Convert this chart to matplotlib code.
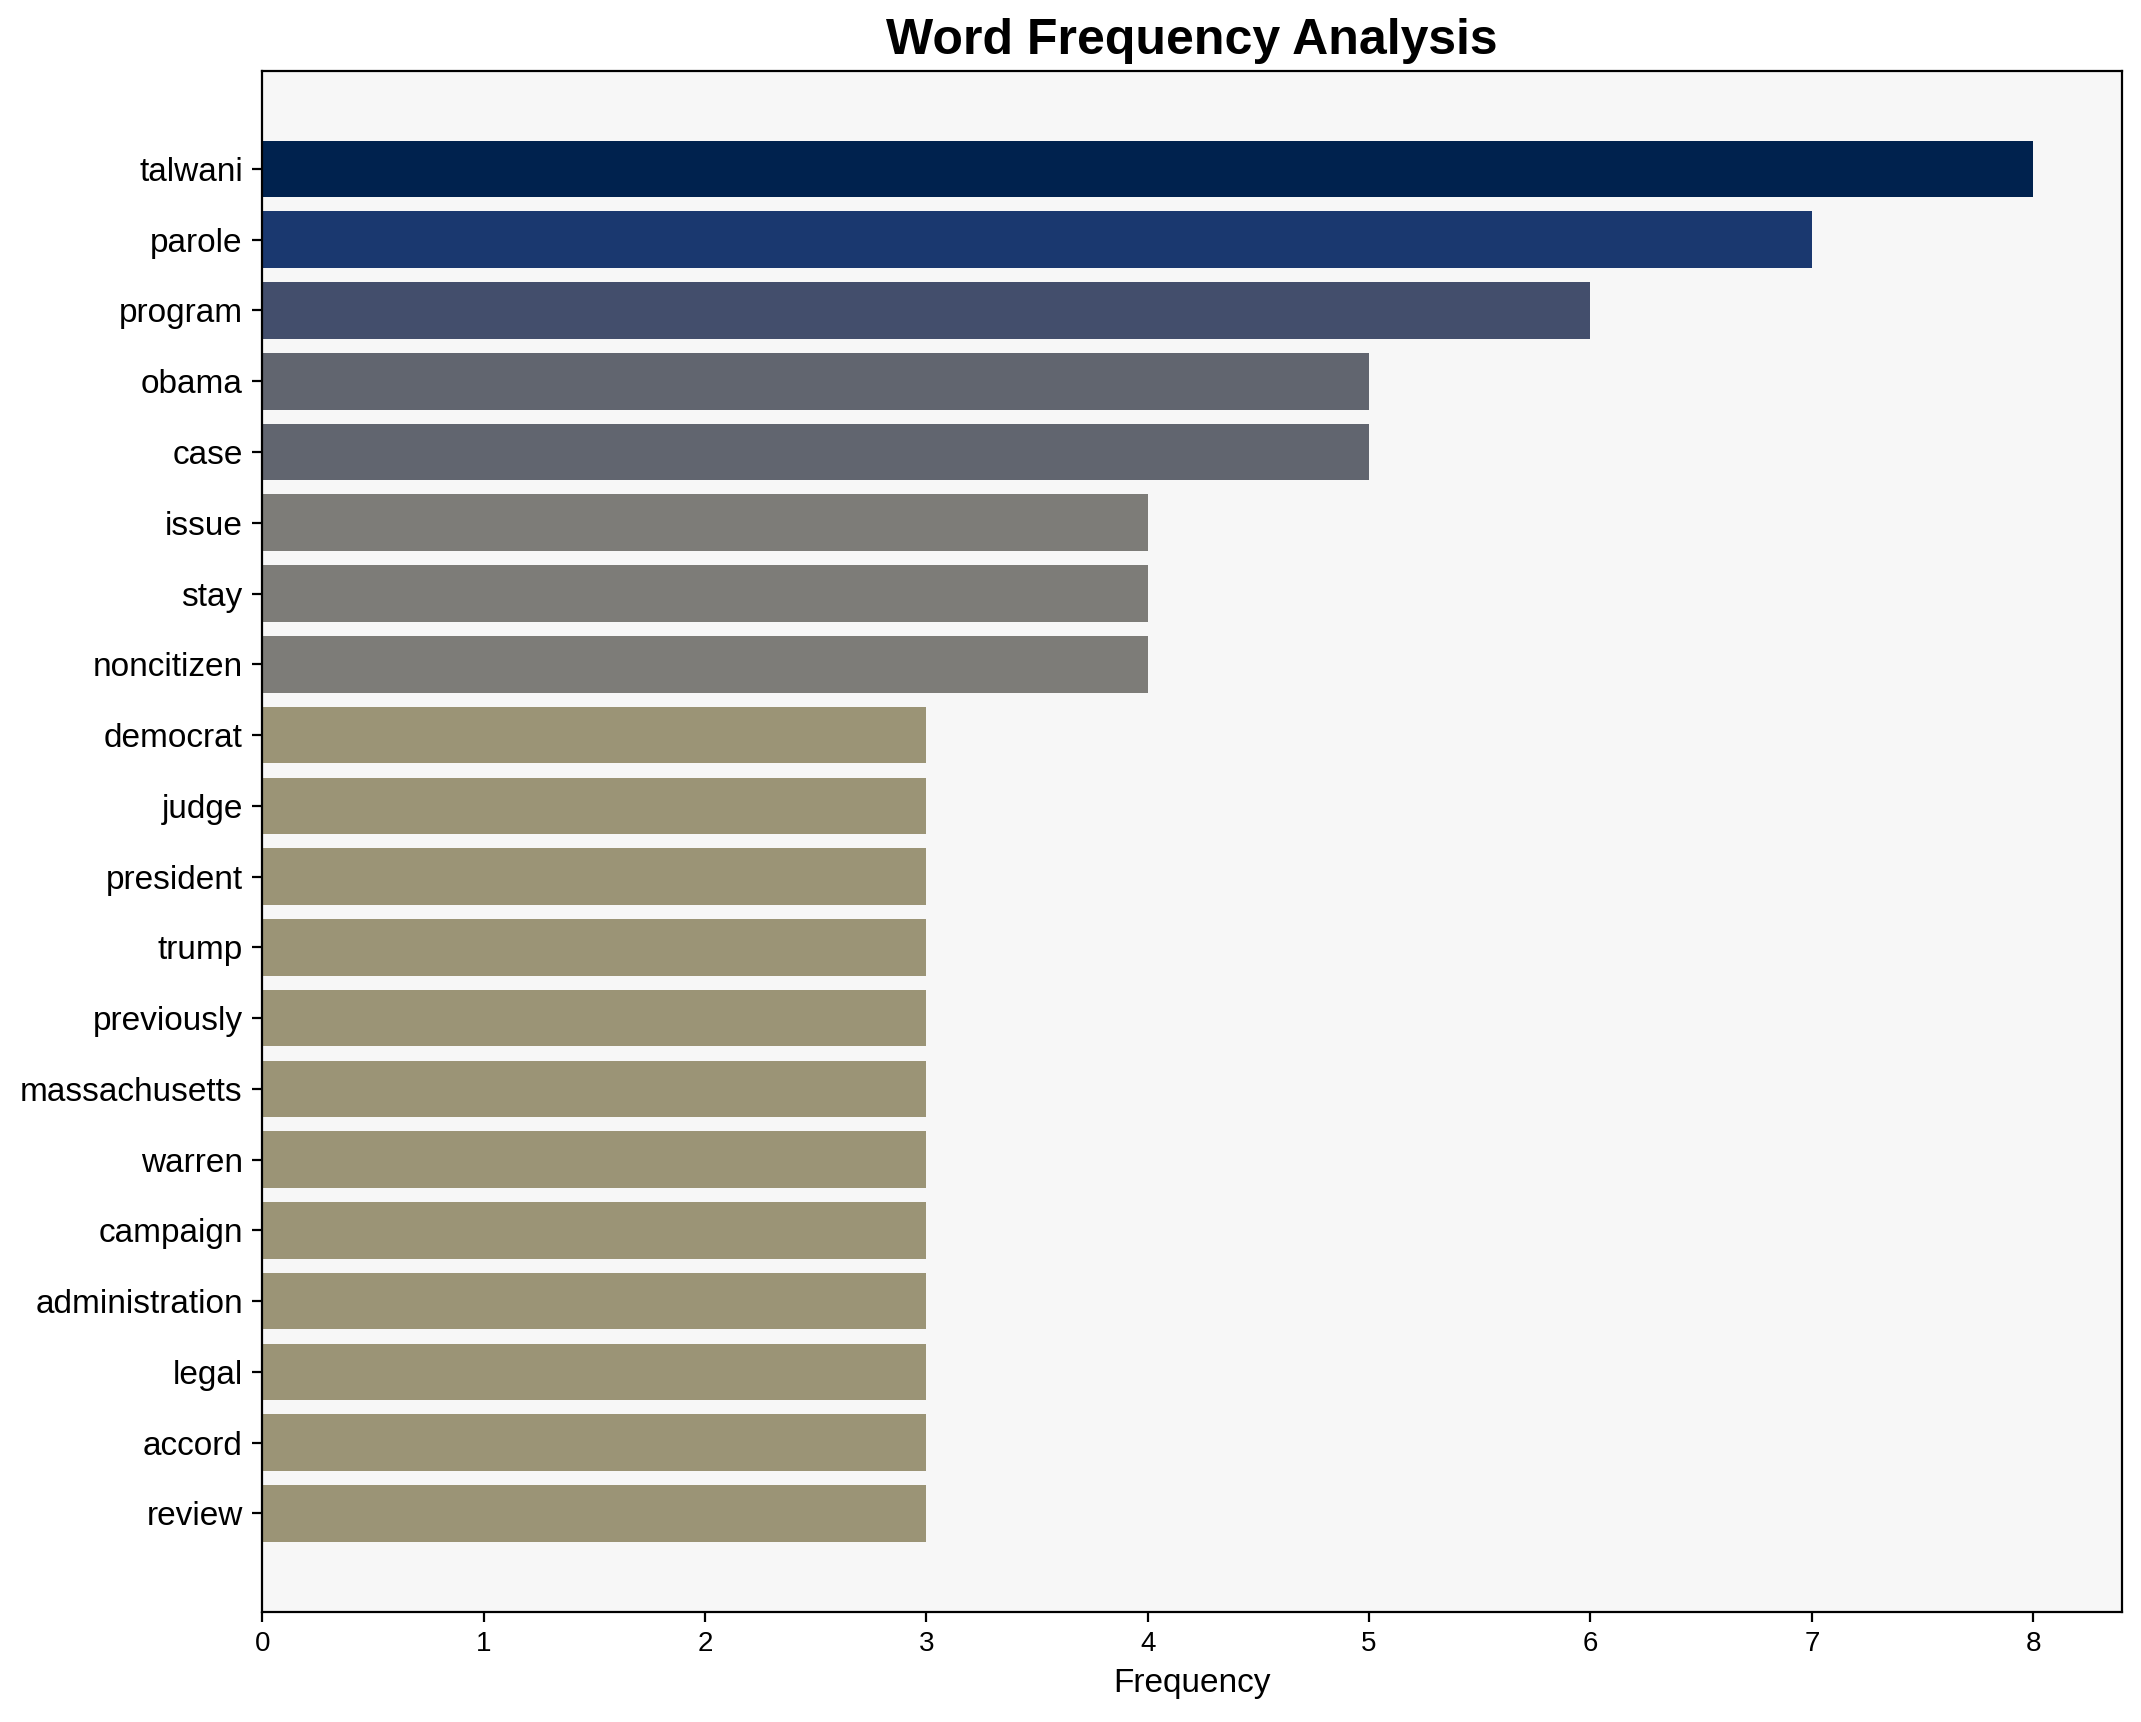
import matplotlib
matplotlib.use("Agg")
import matplotlib.pyplot as plt
import numpy as np

plt.rcParams["font.family"] = ["Liberation Sans", "DejaVu Sans"]

words = [
    "talwani", "parole", "program", "obama", "case", "issue", "stay",
    "noncitizen", "democrat", "judge", "president", "trump", "previously",
    "massachusetts", "warren", "campaign", "administration", "legal",
    "accord", "review",
]
counts = [8, 7, 6, 5, 5, 4, 4, 4, 3, 3, 3, 3, 3, 3, 3, 3, 3, 3, 3, 3]

fig, ax = plt.subplots(figsize=(2141 / 200, 1722 / 200), dpi=200)
fig.subplots_adjust(left=0.1225, right=0.991, top=0.959, bottom=0.064)

vals = np.array(counts)
colors = plt.cm.cividis(1 - vals / vals.max())
ypos = np.arange(len(words))
ax.barh(ypos, vals, color=colors, height=0.8)
ax.set_yticks(ypos)
ax.set_yticklabels(words, fontsize=12)
ax.invert_yaxis()
ax.set_facecolor("#f7f7f7")
ax.tick_params(axis="x", labelsize=10)
ax.set_xlabel("Frequency", fontsize=12)
ax.set_title("Word Frequency Analysis", fontsize=18, fontweight="bold")

fig.savefig("out.png", dpi=200)
